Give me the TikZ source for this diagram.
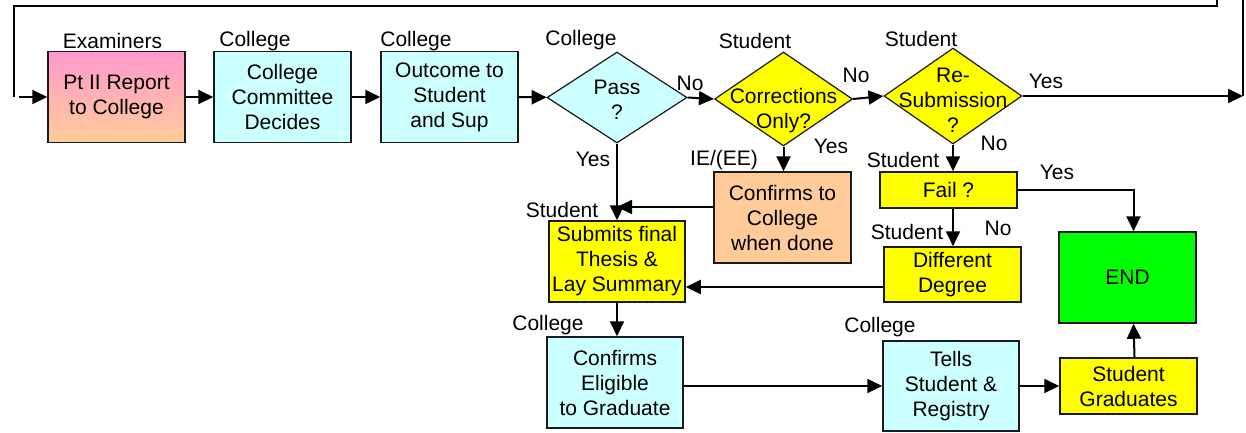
\documentclass[tikz,border=0pt]{standalone}
\usepackage{fontspec}
\setmainfont{Liberation Sans}
\usetikzlibrary{arrows.meta, shapes.geometric, calc}
\definecolor{BoxCyan}{HTML}{CCFFFF}
\definecolor{BoxYellow}{HTML}{FFFF00}
\definecolor{BoxPeach}{HTML}{FFCC99}
\definecolor{BoxPink}{HTML}{FF99CC}
\definecolor{EndGreen}{HTML}{00FF00}
\definecolor{EdgeGrey}{HTML}{1A1A1A}
% text of a decision: no width, no height, so the diamond keeps its size
\newcommand{\dtext}[2][-11pt]{\smash{\makebox[0pt]{\raisebox{#1}{\begin{tabular}{@{}c@{}}#2\end{tabular}}}}}
\tikzset{
  stepbox/.style={rectangle, draw=EdgeGrey, line width=1.5pt, minimum width=137pt, minimum height=91pt, inner sep=2pt, align=center},
  cyanbox/.style={stepbox, fill=BoxCyan},
  yellowbox/.style={stepbox, fill=BoxYellow},
  peachbox/.style={stepbox, fill=BoxPeach},
  decision/.style={diamond, draw=EdgeGrey, line width=1.2pt, inner sep=0pt, minimum width=138pt, minimum height=94pt},
  rolelabel/.style={anchor=base, inner sep=0pt},
  arrow/.style={-{Triangle[length=15pt,width=14pt]}, line width=2pt},
  plainline/.style={line width=2pt}
}
\begin{document}
\begin{tikzpicture}[x=1pt, y=-1pt, font=\fontsize{21}{25}\selectfont]
  \useasboundingbox (0,0) rectangle (1246,432);

  % top row
  \node[stepbox, top color=BoxPink, bottom color=BoxPeach] (report) at (116.5,97) {Pt II Report\\to College};
  \node[cyanbox] (committee) at (282.5,97) {College\\Committee\\Decides};
  \node[cyanbox] (outcome) at (449.5,97) {Outcome to\\Student\\and Sup};
  \node[decision, fill=BoxCyan, minimum width=140pt, minimum height=91pt] (pass) at (617,97.5) {\dtext[-10pt]{Pass\\?}};
  \node[decision, fill=BoxYellow] (corr) at (783.5,99) {\dtext[-17pt]{Corrections\\Only?}};
  \node[decision, fill=BoxYellow, minimum height=96pt] (resub) at (953,96) {\dtext[-12pt]{Re-\\Submission\\?}};

  % lower part
  \node[peachbox] (conf) at (782.5,217.5) {Confirms to\\College\\when done};
  \node[yellowbox, minimum width=136pt, minimum height=81pt] (submit) at (617,261.5) {Submits final\\Thesis \&\\Lay Summary};
  \node[cyanbox, minimum width=136pt] (elig) at (615,382.5) {Confirms\\Eligible\\to Graduate};
  \node[yellowbox, minimum height=36pt] (fail) at (948.5,190) {Fail ?};
  \node[yellowbox, minimum height=55pt] (diff) at (952.5,274.5) {Different\\Degree};
  \node[cyanbox, minimum width=136pt, minimum height=90pt] (tells) at (951,386) {Tells\\Student \&\\Registry};
  \node[stepbox, fill=EndGreen] (end) at (1127.5,277.5) {END};
  \node[yellowbox, minimum height=56pt] (grad) at (1128.5,386) {Student\\Graduates};

  % who does it
  \node[rolelabel] (r-report) at (112.5,48.5) {Examiners};
  \node[rolelabel] (r-committee) at (255,46.5) {College};
  \node[rolelabel] (r-outcome) at (416,46) {College};
  \node[rolelabel] (r-pass) at (581,45.5) {College};
  \node[rolelabel] (r-corr) at (755,48.5) {Student};
  \node[rolelabel] (r-resub) at (921,46.5) {Student};
  \node[rolelabel] (r-submit) at (562,217) {Student};
  \node[rolelabel] (r-elig) at (548,330) {College};
  \node[rolelabel] (r-fail) at (903,167) {Student};
  \node[rolelabel] (r-diff) at (907,239) {Student};
  \node[rolelabel] (r-tells) at (880,332) {College};

  % answers
  \node[rolelabel] (a-pass-no) at (690,90) {No};
  \node[rolelabel] (a-corr-no) at (856,82) {No};
  \node[rolelabel] (a-resub-yes) at (1046,88) {Yes};
  \node[rolelabel] (a-pass-yes) at (593,166) {Yes};
  \node[rolelabel] (a-corr-who) at (724,165) {IE/(EE)};
  \node[rolelabel] (a-corr-yes) at (831,153) {Yes};
  \node[rolelabel] (a-resub-no) at (994,150) {No};
  \node[rolelabel] (a-fail-yes) at (1057,179.5) {Yes};
  \node[rolelabel] (a-fail-no) at (998,235) {No};

  % loop back from the right
  \coordinate (topR) at (1217,0);
  \coordinate (topL) at (14,6);
  \coordinate (feedL) at (14,97);
  \coordinate (feedIn) at (19,97);
  \coordinate (exitR) at (1243,96);
  \coordinate (exitTop) at (1243,0);
  \draw[plainline] (topR) -- (topR |- topL) -- (topL) -- (feedL);
  \draw[arrow] (feedIn) -- (report.west);
  \draw[arrow] (resub.east) -- (exitR);
  \draw[plainline] (exitR) -- (exitTop);

  % connectors
  \draw[arrow] (report) -- (committee);
  \draw[arrow] (committee) -- (outcome);
  \draw[arrow] (outcome) -- (pass);
  \draw[arrow] (pass.east) -- (corr.west);
  \draw[arrow] (corr.east) -- (resub.west);
  \draw[arrow] (pass.south) -- (pass.south |- submit.north);
  \draw[arrow] ([yshift=10.5pt]conf.west) -- ([yshift=10.5pt]conf.west -| pass.south);
  \draw[arrow] (corr.south) -- (corr.south |- conf.north);
  \draw[arrow] (resub.south) -- (resub.south |- fail.north);
  \draw[arrow] (fail.south -| resub.south) -- (diff.north -| resub.south);
  \draw[arrow] (fail.east) -| ([xshift=6pt]end.north);
  \draw[arrow] ([yshift=-12.5pt]diff.west) -- ([yshift=-12.5pt]diff.west -| submit.east);
  \draw[arrow] (submit.south) -- (submit.south |- elig.north);
  \draw[arrow] (elig.east |- tells.west) -- (tells.west);
  \draw[arrow] (tells) -- (grad);
  \draw[arrow] ([xshift=6pt]grad.north) -- ([xshift=6pt]end.south);
\end{tikzpicture}
\end{document}
